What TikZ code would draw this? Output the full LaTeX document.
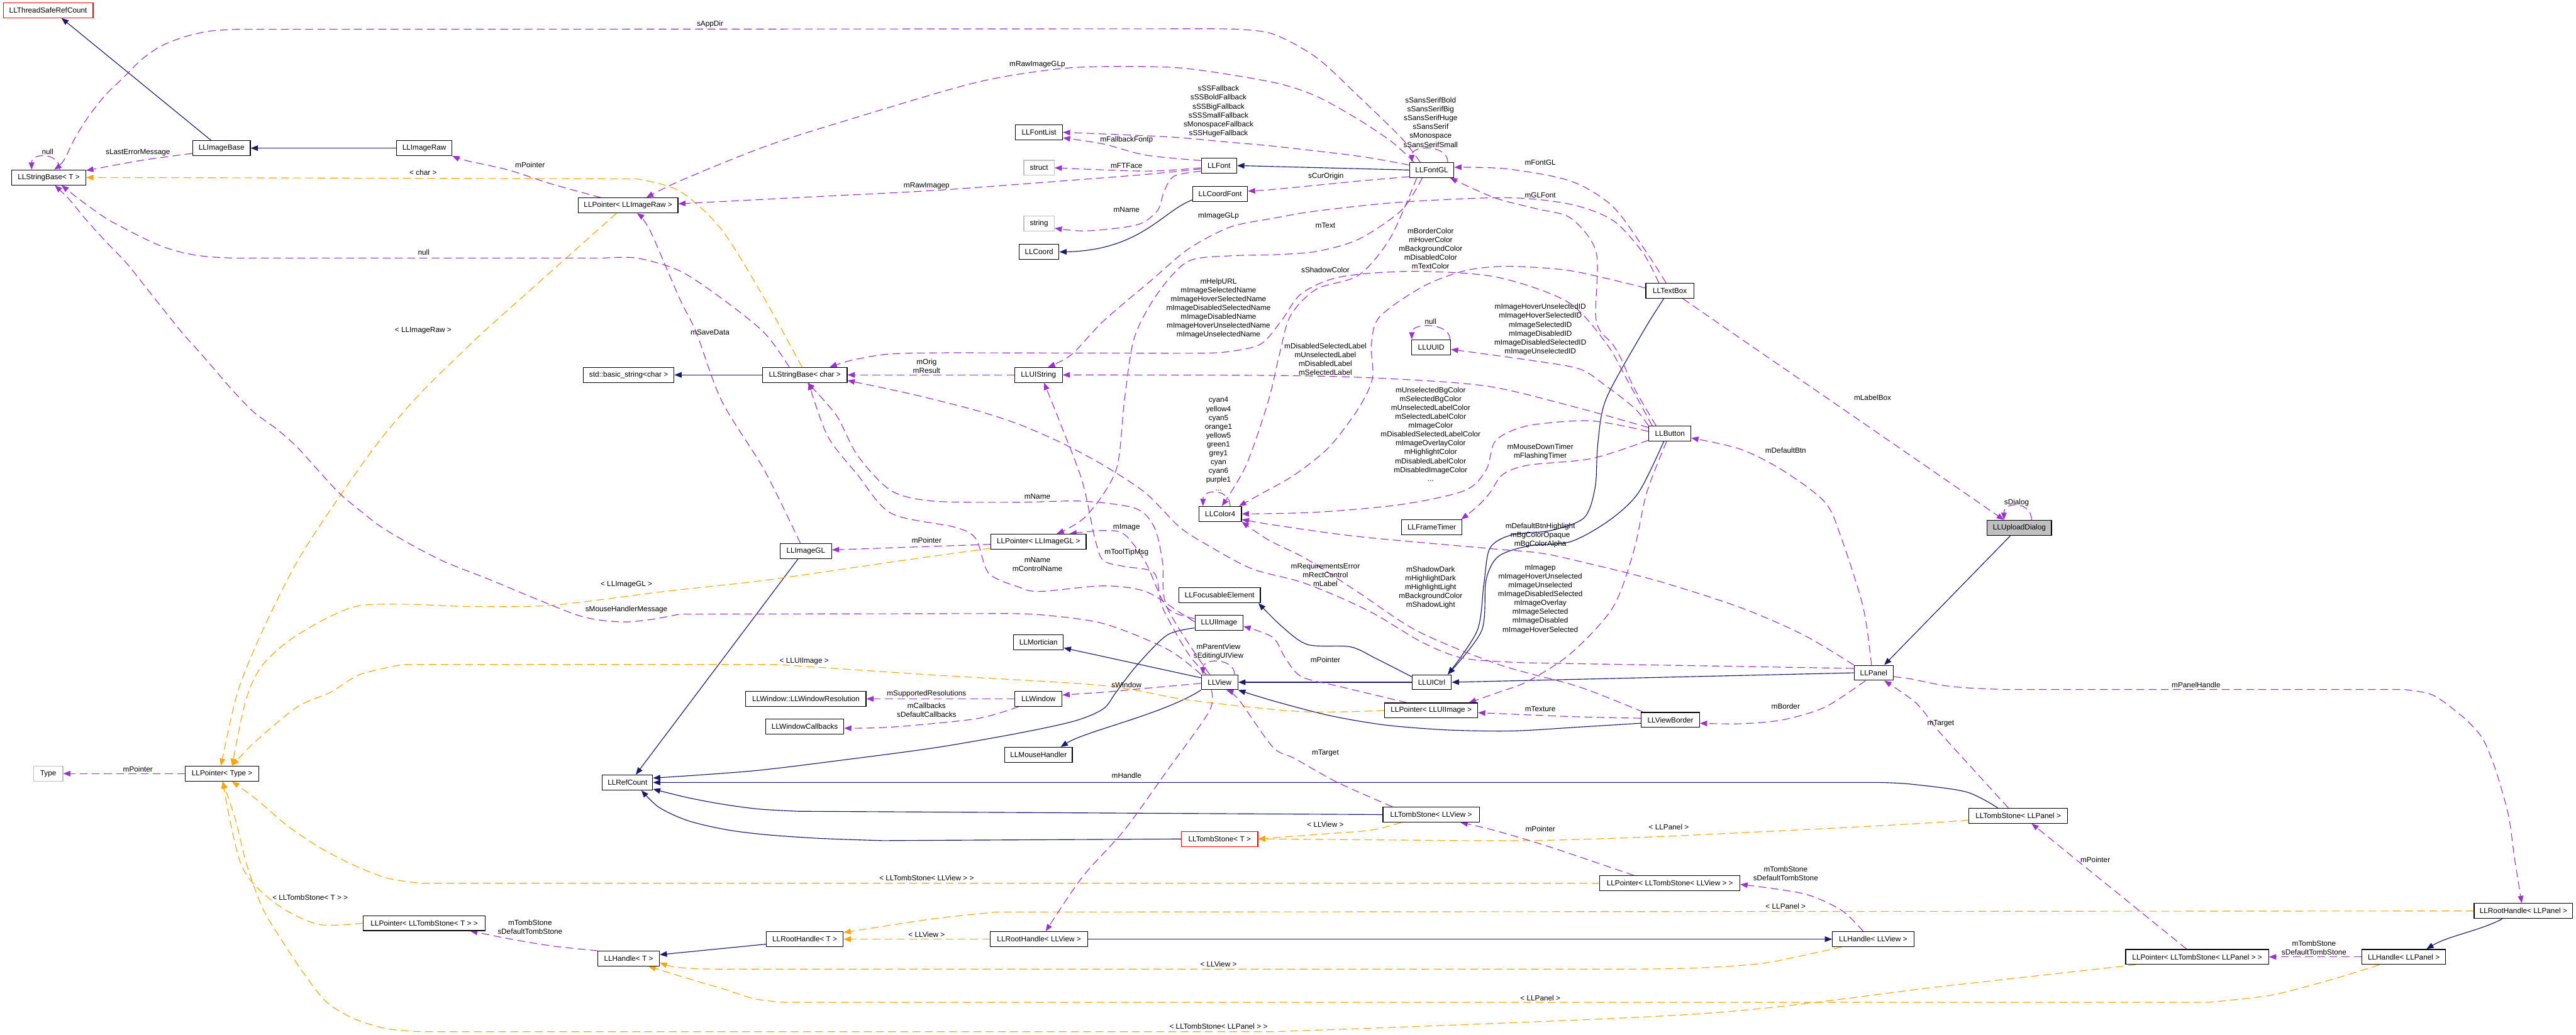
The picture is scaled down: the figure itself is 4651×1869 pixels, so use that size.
\documentclass[tikz,border=0pt]{standalone}
\usepackage{fontspec}
\setmainfont{Liberation Sans}
\usetikzlibrary{arrows.meta}
\definecolor{inhc}{HTML}{191970}
\definecolor{usec}{HTML}{9A32CD}
\definecolor{tplc}{HTML}{FFA500}
\definecolor{grayb}{HTML}{BFBFBF}
\pgfdeclarelayer{edges}
\pgfsetlayers{edges,main}
\begin{document}
\begin{tikzpicture}[x=1pt,y=-1pt,
 cls/.style={draw=black,line width=1.3pt,fill=white,minimum height=27pt,inner sep=0pt,font=\fontsize{13.4}{16}\selectfont},
 redcls/.style={cls,draw=red},
 grycls/.style={cls,draw=grayb},
 lbl/.style={inner sep=0pt,align=center,font=\fontsize{13.4}{16}\selectfont},
 inh/.style={draw=inhc,line width=1.3pt,-{Triangle[length=13pt,width=10pt]}},
 use/.style={draw=usec,line width=1.3pt,dash pattern=on 14pt off 8pt,-{Triangle[length=13pt,width=10pt]}},
 tpl/.style={draw=tplc,line width=1.3pt,dash pattern=on 14pt off 8pt,-{Triangle[length=13pt,width=10pt]}},
 sm/.style={smooth,tension=0.5}]
\useasboundingbox (0,0) rectangle (4651,1869);
% ---------- classes
\node[redcls,minimum width=162pt] (tsrc) at (87,18.5) {LLThreadSafeRefCount};
\node[cls,minimum width=104pt] (imgbase) at (400,267.5) {LLImageBase};
\node[cls,minimum width=100pt] (imgraw) at (766,267.5) {LLImageRaw};
\node[cls,minimum width=134pt] (sbT) at (88,320.5) {LLStringBase< T >};
\node[cls,minimum width=180pt] (ptrRaw) at (1134,371) {LLPointer< LLImageRaw >};
\node[cls,minimum width=85pt] (fontlist) at (1876,239) {LLFontList};
\node[grycls,minimum width=55pt] (struct) at (1876,303) {struct};
\node[cls,minimum width=64pt] (font) at (2201,299) {LLFont};
\node[cls,minimum width=99pt] (coordfont) at (2203,350) {LLCoordFont};
\node[grycls,minimum width=55pt] (string) at (1876,404) {string};
\node[cls,minimum width=72pt] (coord) at (1876,455) {LLCoord};
\node[cls,minimum width=80pt] (fontgl) at (2585,307) {LLFontGL};
\node[cls,minimum width=87pt] (textbox) at (3015,525) {LLTextBox};
\node[cls,minimum width=70pt] (uuid) at (2584,627) {LLUUID};
\node[cls,minimum width=164pt] (bstring) at (1135,677) {std::basic\_string<char >};
\node[cls,minimum width=153pt] (sbChar) at (1453,677) {LLStringBase< char >};
\node[cls,minimum width=86pt] (uistring) at (1875,677) {LLUIString};
\node[cls,minimum width=77pt] (color) at (2203,928) {LLColor4};
\node[cls,minimum width=93pt] (imagegl) at (1455,995) {LLImageGL};
\node[cls,minimum width=172pt] (ptrGL) at (1875,978) {LLPointer< LLImageGL >};
\node[cls,minimum width=147pt] (focus) at (2202,1075) {LLFocusableElement};
\node[cls,minimum width=87pt] (uiimage) at (2201,1125) {LLUIImage};
\node[cls,minimum width=90pt] (mortician) at (1875,1160) {LLMortician};
\node[cls,minimum width=66pt] (view) at (2202,1232) {LLView};
\node[cls,minimum width=76pt] (button) at (3015,783) {LLButton};
\node[cls,minimum width=109pt] (frametimer) at (2585,952) {LLFrameTimer};
\node[cls,minimum width=71pt] (panel) at (3383,1215) {LLPanel};
\node[cls,minimum width=71pt] (uictrl) at (2585,1232) {LLUICtrl};
\node[cls,minimum width=116pt,fill=grayb] (dialog) at (3646,953) {LLUploadDialog};
\node[cls,minimum width=217pt] (winres) at (1455,1262) {LLWindow::LLWindowResolution};
\node[cls,minimum width=85pt] (window) at (1875,1262) {LLWindow};
\node[cls,minimum width=141pt] (wincb) at (1453,1312) {LLWindowCallbacks};
\node[cls,minimum width=122pt] (mouse) at (1875,1363) {LLMouseHandler};
\node[cls,minimum width=91pt] (refcount) at (1133,1413) {LLRefCount};
\node[redcls,minimum width=138pt] (tombT) at (2202,1515) {LLTombStone< T >};
\node[cls,minimum width=139pt] (rootT) at (1453,1696) {LLRootHandle< T >};
\node[cls,minimum width=176pt] (rootView) at (1876,1696) {LLRootHandle< LLView >};
\node[cls,minimum width=111pt] (handleT) at (1135,1731) {LLHandle< T >};
\node[grycls,minimum width=53pt] (type) at (87,1397) {Type};
\node[cls,minimum width=133pt] (ptrType) at (401,1397) {LLPointer< Type >};
\node[cls,minimum width=220pt] (ptrTombT) at (766,1667) {LLPointer< LLTombStone< T > >};
\node[cls,minimum width=168pt] (ptrUI) at (2584,1283) {LLPointer< LLUIImage >};
\node[cls,minimum width=105pt] (border) at (3016,1300) {LLViewBorder};
\node[cls,minimum width=174pt] (tombView) at (2584,1471) {LLTombStone< LLView >};
\node[cls,minimum width=253pt] (ptrTombView) at (3015,1595) {LLPointer< LLTombStone< LLView > >};
\node[cls,minimum width=147pt] (handleView) at (3382,1696) {LLHandle< LLView >};
\node[cls,minimum width=178pt] (tombPanel) at (3644,1473) {LLTombStone< LLPanel >};
\node[cls,minimum width=178pt] (rootPanel) at (4556,1645) {LLRootHandle< LLPanel >};
\node[cls,minimum width=258pt] (ptrTombPanel) at (3967,1728) {LLPointer< LLTombStone< LLPanel > >};
\node[cls,minimum width=151pt] (handlePanel) at (4340,1728) {LLHandle< LLPanel >};
% ---------- labels
\node[lbl] (t1) at (1282,44) {sAppDir};
\node[lbl] (t2) at (1873,116) {mRawImageGLp};
\node[lbl] (t3) at (2200,201) {sSSFallback\\sSSBoldFallback\\sSSBigFallback\\sSSSmallFallback\\sMonospaceFallback\\sSSHugeFallback};
\node[lbl] (t4) at (2583,221) {sSansSerifBold\\sSansSerifBig\\sSansSerifHuge\\sSansSerif\\sMonospace\\sSansSerifSmall};
\node[lbl] (t5) at (2034,253) {mFallbackFontp};
\node[lbl] (t6) at (2034,299) {mFTFace};
\node[lbl] (t7) at (1673,336) {mRawImagep};
\node[lbl] (t8) at (2394,318) {sCurOrigin};
\node[lbl] (t9) at (2781,293) {mFontGL};
\node[lbl] (t10) at (2781,353) {mGLFont};
\node[lbl] (t11) at (2034,379) {mName};
\node[lbl] (t12) at (2200,390) {mImageGLp};
\node[lbl] (t13) at (2393,407) {mText};
\node[lbl] (t14) at (2583,449) {mBorderColor\\mHoverColor\\mBackgroundColor\\mDisabledColor\\mTextColor};
\node[lbl] (t15) at (2393,487) {sShadowColor};
\node[lbl] (t16) at (2200,557) {mHelpURL\\mImageSelectedName\\mImageHoverSelectedName\\mImageDisabledSelectedName\\mImageDisabledName\\mImageHoverUnselectedName\\mImageUnselectedName};
\node[lbl] (t17) at (2781,595) {mImageHoverUnselectedID\\mImageHoverSelectedID\\mImageSelectedID\\mImageDisabledID\\mImageDisabledSelectedID\\mImageUnselectedID};
\node[lbl] (t18) at (2583,580) {null};
\node[lbl] (t19) at (2393,649) {mDisabledSelectedLabel\\mUnselectedLabel\\mDisabledLabel\\mSelectedLabel};
\node[lbl] (t20) at (1673,661) {mOrig\\mResult};
\node[lbl] (t21) at (3381,718) {mLabelBox};
\node[lbl] (t22) at (2583,784) {mUnselectedBgColor\\mSelectedBgColor\\mUnselectedLabelColor\\mSelectedLabelColor\\mImageColor\\mDisabledSelectedLabelColor\\mImageOverlayColor\\mHighlightColor\\mDisabledLabelColor\\mDisabledImageColor\\...};
\node[lbl] (t23) at (2200,802) {cyan4\\yellow4\\cyan5\\orange1\\yellow5\\green1\\grey1\\cyan\\cyan6\\purple1\\...};
\node[lbl] (t24) at (2781,816) {mMouseDownTimer\\mFlashingTimer};
\node[lbl] (t25) at (3224,813) {mDefaultBtn};
\node[lbl] (t26) at (1873,896) {mName};
\node[lbl] (t27) at (3641,908) {sDialog};
\node[lbl] (t28) at (2034,952) {mImage};
\node[lbl] (t29) at (2781,967) {mDefaultBtnHighlight\\mBgColorOpaque\\mBgColorAlpha};
\node[lbl] (t30) at (1673,976) {mPointer};
\node[lbl] (t31) at (2034,998) {mToolTipMsg};
\node[lbl] (t32) at (1873,1019) {mName\\mControlName};
\node[lbl] (t33) at (2393,1038) {mRequirementsError\\mRectControl\\mLabel};
\node[lbl] (t34) at (2583,1061) {mShadowDark\\mHighlightDark\\mHighlightLight\\mBackgroundColor\\mShadowLight};
\node[lbl] (t35) at (2781,1082) {mImagep\\mImageHoverUnselected\\mImageUnselected\\mImageDisabledSelected\\mImageOverlay\\mImageSelected\\mImageDisabled\\mImageHoverSelected};
\node[lbl] (t36) at (1131,1101) {sMouseHandlerMessage};
\node[lbl] (t37) at (1131,1056) {< LLImageGL >};
\node[lbl] (t38) at (2200,1177) {mParentView\\sEditingUIView};
\node[lbl] (t39) at (2393,1192) {mPointer};
\node[lbl] (t40) at (1452,1194) {< LLUIImage >};
\node[lbl] (t41) at (2034,1237) {sWindow};
\node[lbl] (t42) at (3965,1237) {mPanelHandle};
\node[lbl] (t43) at (1673,1253) {mSupportedResolutions};
\node[lbl] (t44) at (1673,1282) {mCallbacks\\sDefaultCallbacks};
\node[lbl] (t45) at (3224,1276) {mBorder};
\node[lbl] (t46) at (2781,1280) {mTexture};
\node[lbl] (t47) at (3504,1306) {mTarget};
\node[lbl] (t48) at (2393,1360) {mTarget};
\node[lbl] (t49) at (249,1389) {mPointer};
\node[lbl] (t50) at (2034,1400) {mHandle};
\node[lbl] (t51) at (2393,1489) {< LLView >};
\node[lbl] (t52) at (3013,1494) {< LLPanel >};
\node[lbl] (t53) at (2781,1497) {mPointer};
\node[lbl] (t54) at (3783,1553) {mPointer};
\node[lbl] (t55) at (3224,1578) {mTombStone\\sDefaultTombStone};
\node[lbl] (t56) at (1673,1586) {< LLTombStone< LLView > >};
\node[lbl] (t57) at (560,1621) {< LLTombStone< T > >};
\node[lbl] (t58) at (3224,1636) {< LLPanel >};
\node[lbl] (t59) at (957,1674) {mTombStone\\sDefaultTombStone};
\node[lbl] (t60) at (1673,1688) {< LLView >};
\node[lbl] (t61) at (4178,1712) {mTombStone\\sDefaultTombStone};
\node[lbl] (t62) at (2200,1741) {< LLView >};
\node[lbl] (t63) at (2781,1802) {< LLPanel >};
\node[lbl] (t64) at (2200,1853) {< LLTombStone< LLPanel > >};
\node[lbl] (t65) at (249,276) {sLastErrorMessage};
\node[lbl] (t66) at (86,274) {null};
\node[lbl] (t67) at (957,298) {mPointer};
\node[lbl] (t68) at (764,312) {< char >};
\node[lbl] (t69) at (765,456) {null};
\node[lbl] (t70) at (764,597) {< LLImageRaw >};
\node[lbl] (t71) at (1282,600) {mSaveData};
% ---------- connectors
\begin{pgfonlayer}{edges}
% inheritance
\draw[inh] ([xshift=-19pt]imgbase.north) -- ([xshift=24pt]tsrc.south);
\draw[inh] (imgraw.west) -- (imgbase.east);
\draw[inh] (fontgl.west) -- (font.east);
\draw[inh] ([yshift=-11pt]coordfont.west) .. controls (2100,380) and (2060,452) .. (coord.east);
\draw[inh] (sbChar.west) -- (bstring.east);
\draw[inh] plot[sm] coordinates {([xshift=-11pt]textbox.south) (2966,600) (2900,720) (2885,800) (2880,880) (2860,935) (2800,958) (2729,966) (2690,990) (2679,1056) (2667,1139) ([xshift=29pt]uictrl.north)};
\draw[inh] plot[sm] coordinates {([xshift=-11pt]button.south) (2958,890) (2905,940) (2836,978) (2759,986) (2705,1005) (2683,1048) (2675,1139) ([xshift=29pt]uictrl.north)};
\draw[inh] (panel.west) -- (uictrl.east);
\draw[inh] ([xshift=-16pt]dialog.south) -- ([xshift=19pt]panel.north);
\draw[inh] (uictrl.west) -- (view.east);
\draw[inh] plot[sm] coordinates {([yshift=10pt]uictrl.west) (2484,1189) (2438,1168) (2361,1164) (2313,1130) ([xshift=-4pt]focus.south east)};
\draw[inh] ([yshift=8pt]view.west) -- ([yshift=-10pt]mortician.east);
\draw[inh] (view.south west) .. controls (2100,1290) and (1960,1320) .. ([xshift=40pt]mouse.north);
\draw[inh] plot[sm] coordinates {([yshift=-9pt]uiimage.west) (2107,1147) (2053,1201) (2015,1250) (1992,1280) (1940,1302) (1839,1324) (1690,1350) (1533,1371) (1360,1392) ([yshift=8pt]refcount.east)};
\draw[inh] ([xshift=-14pt]imagegl.south) -- ([xshift=15pt]refcount.north);
\draw[inh] plot[sm] coordinates {([xshift=-37pt]tombPanel.north) (3550,1430) (3450,1416) (3394,1413)} -- (refcount.east);
\draw[inh] (tombView.west) -- plot[sm] coordinates {(1441,1465) (1370,1461) (1303,1452) (1240,1440) ([yshift=-12pt]refcount.east)};
\draw[inh] (tombT.west) -- plot[sm] coordinates {(1594,1518) (1480,1514) (1380,1507) (1310,1498) (1242,1482) (1190,1458) ([xshift=25pt]refcount.south)};
\draw[inh] ([yshift=-9pt]rootT.west) -- ([yshift=7pt]handleT.east);
\draw[inh] (rootView.east) -- (handleView.west);
\draw[inh] ([xshift=-38pt]rootPanel.south) .. controls (4480,1680) and (4420,1690) .. ([xshift=41pt]handlePanel.north);
\draw[inh] plot[sm] coordinates {([yshift=-6pt]border.west) (2850,1313) (2729,1320) (2610,1318) (2499,1309) (2400,1292) (2300,1266) (view.south east)};
% template instances
\draw[tpl] plot[sm] coordinates {([xshift=-5pt]sbChar.north) (1380,539) (1303,415) (1227,345) (1150,323)} -- (sbT.east);
\draw[tpl] ([xshift=-21pt]ptrRaw.south) -- plot[sm] coordinates {(872,600) (765,704) (689,791) (612,898) (536,1015) (474,1139) (429,1250) ([xshift=-2pt]ptrType.north)};
\draw[tpl] plot[sm] coordinates {([yshift=-12pt]ptrGL.west) (1609,1015) (1380,1048) (1200,1068) (995,1093) (842,1095) (727,1091) (635,1097) (536,1147) (474,1201) (444,1264) ([xshift=18pt]ptrType.north)};
\draw[tpl] plot[sm] coordinates {(ptrUI.west) (2350,1285) (2145,1264) (1992,1238) (1686,1219) (1403,1200)} -- plot[sm] coordinates {(727,1200) (650,1218) (597,1250) (536,1277) (459,1341) ([xshift=18pt]ptrType.north)};
\draw[tpl] (ptrTombView.west) -- plot[sm] coordinates {(760,1595) (700,1586) (640,1563) (580,1532) (520,1492) (465,1445) ([xshift=18pt]ptrType.south)};
\draw[tpl] plot[sm] coordinates {(ptrTombT.west) (574,1669) (497,1631) (436,1563) ([xshift=1pt]ptrType.south)};
\draw[tpl] plot[sm] coordinates {([xshift=-111pt]ptrTombPanel.south) (3500,1782) (3065,1831) (2300,1863)} -- plot[sm] coordinates {(760,1863) (700,1858) (640,1840) (590,1810) (550,1760) (510,1700) (474,1640) (445,1560) (425,1480) ([xshift=1pt]ptrType.south)};
\draw[tpl] (rootView.west) -- (rootT.east);
\draw[tpl] (rootPanel.west) -- plot[sm] coordinates {(1800,1647) (1686,1659) ([yshift=12pt]rootT.east)};
\draw[tpl] plot[sm] coordinates {([xshift=-57pt]handleView.south) (3257,1725) (3180,1740) (3065,1748) (2950,1750)} -- (1300,1750) .. controls (1230,1750) and (1210,1745) .. ([yshift=-8pt]handleT.east);
\draw[tpl] plot[sm] coordinates {([xshift=-44pt]handlePanel.south) (4216,1767) (4101,1797) (3986,1810)} -- plot[sm] coordinates {(1418,1810) (1364,1804) (1303,1785) (1242,1767) ([xshift=36pt]handleT.south)};
\draw[tpl] plot[sm] coordinates {([xshift=-54pt]tombView.south) (2476,1499) (2377,1507) (tombT.east)};
\draw[tpl] plot[sm] coordinates {([yshift=-8pt]tombPanel.west) (3450,1488) (3220,1500) (2989,1511) (2759,1518) (2530,1517)} -- (tombT.east);
% usage
\draw[use] plot[sm] coordinates {([yshift=-9.5pt]imgbase.west) (253,290) ([yshift=12.5pt]sbT.east)};
\draw[use] ([xshift=20pt]sbT.north) .. controls (108,275) and (57,275) .. ([xshift=-31pt]sbT.north);
\draw[use] plot[sm] coordinates {([xshift=-21pt]fontgl.north) (2530,249) (2453,174) (2377,104) (2300,62) (2237,53) (2160,52)} -- plot[sm] coordinates {(430,53) (380,56) (335,66) (291,83) (255,108) (225,138) (190,172) (160,210) (135,250) (115,290) ([xshift=10pt]sbT.north)};
\draw[use] plot[sm] coordinates {([xshift=-49pt]ptrRaw.north) (995,332) (918,307) (842,290) (imgraw.south east)};
\draw[use] plot[sm] coordinates {([xshift=-32pt]fontgl.north) (2514,257) (2453,216) (2377,174) (2300,149) (2145,124) (2030,120) (1915,124) (1762,149) (1533,216) (1380,265) (1227,327) ([xshift=33pt]ptrRaw.north)};
\draw[use] plot[sm] coordinates {([yshift=-6pt]font.west) (2068,315) (1915,327) (1686,344) (1456,356) ([yshift=3pt]ptrRaw.east)};
\draw[use] plot[sm] coordinates {([yshift=9pt]font.west) (2068,280) (1992,260) ([yshift=-10pt]fontlist.east)};
\draw[use] plot[sm] coordinates {([yshift=9pt]fontgl.west) (2453,282) (2300,264) (2221,257) (2107,247) (fontlist.east)};
\draw[use] plot[sm] coordinates {([yshift=-4pt]font.west) (2068,309) (struct.east)};
\draw[use] plot[sm] coordinates {([yshift=-10pt]font.west) (2120,318) (2102,345) (2090,380) (2053,406) (1961,417) ([yshift=-8pt]string.east)};
\draw[use] plot[sm] coordinates {([yshift=-12pt]fontgl.west) (2453,327) (2300,342) ([yshift=5pt]coordfont.east)};
\draw[use] ([xshift=29pt]fontgl.north) .. controls (2614,261) and (2549,261) .. ([xshift=-36pt]fontgl.north);
\draw[use] plot[sm] coordinates {([xshift=-7pt]textbox.north) (2973,456) (2912,373) (2836,327) (2721,305) ([yshift=5pt]fontgl.east)};
\draw[use] plot[sm] coordinates {([xshift=-25pt]button.north) (2950,700) (2928,650) (2912,622) (2882,580) (2882,456) (2836,394) (2774,377) (2698,357) ([xshift=33pt]fontgl.south)};
\draw[use] plot[sm] coordinates {([xshift=-20pt]textbox.north) (2966,456) (2912,398) (2836,369) (2721,357) (2530,365) (2377,381) (2300,394) (2221,410) (2145,450) (2080,505) (1992,580) (1935,640) ([xshift=17pt]uistring.north)};
\draw[use] plot[sm] coordinates {([xshift=-17pt]fontgl.south) (2530,380) (2453,432) (2377,454) (2300,460) (2221,462) (2145,472) (2090,530) (2048,610) (2030,724) (2015,849) (1961,932) ([xshift=33pt]ptrGL.north)};
\draw[use] plot[sm] coordinates {([xshift=-27pt]fontgl.south) (2510,430) (2453,497) (2377,522) (2330,570) (2310,640) (2290,724) (2250,840) ([xshift=3pt]color.north)};
\draw[use] plot[sm] coordinates {([yshift=5pt]textbox.west) (2836,489) (2721,481) (2644,489) (2568,518) (2491,572) (2476,622) (2478,683) (2453,737) (2400,807) (2338,857) (2280,890) ([xshift=34pt]color.north)};
\draw[use] plot[sm] coordinates {([xshift=-32pt]button.north) (2940,690) (2900,620) (2830,545) (2700,500) (2550,490) (2420,500) (2350,530) (2313,580) (2275,622) (2210,636) (2145,638)} -- plot[sm] coordinates {(1724,637) (1609,639) (1540,650) ([xshift=45pt]sbChar.north)};
\draw[use] plot[sm] coordinates {(button.north west) (2951,737) (2897,695) (2851,666) (2759,650) ([yshift=-4pt]uuid.east)};
\draw[use] plot[sm] coordinates {([yshift=11pt]button.west) (2836,733) (2683,697) (2491,683) (2300,678) (uistring.east)};
\draw[use] plot[sm] coordinates {([yshift=4pt]button.west) (2874,760) (2775,766) (2729,778) (2698,799) (2683,849) (2644,886) (2530,911) (2377,925) (color.east)};
\draw[use] plot[sm] coordinates {([yshift=-12pt]button.west) (2874,828) (2759,840) (2713,857) (2690,890) (2667,915) ([xshift=-2pt]frametimer.north east)};
\draw[use] plot[sm] coordinates {([xshift=-6pt]button.south) (2973,890) (2950,994) (2912,1097) (2836,1180) (2759,1230) (2706,1250) ([xshift=68pt]ptrUI.north)};
\draw[use] plot[sm] coordinates {([yshift=3pt]border.west) (2836,1294) ([yshift=-4pt]ptrUI.east)};
\draw[use] plot[sm] coordinates {([xshift=-15pt]panel.south) (3295,1277) (3218,1300) (3142,1307) ([yshift=-6pt]border.east)};
\draw[use] plot[sm] coordinates {([xshift=-4pt]panel.north) (3364,1097) (3325,973) (3295,907) (3218,849) (3142,811) ([yshift=-8pt]button.east)};
\draw[use] plot[sm] coordinates {([yshift=-7pt]panel.east) (3450,1226) (3510,1238) (3565,1243) (3620,1245)} -- plot[sm] coordinates {(4338,1245) (4392,1255) (4446,1294) (4480,1330) (4499,1371) (4515,1420) (4530,1477) (4540,1550) ([xshift=-3pt]rootPanel.north)};
\draw[use] plot[sm] coordinates {([xshift=-18pt]tombPanel.north) (3565,1392) (3500,1320) (3460,1270) ([xshift=19pt]panel.south)};
\draw[use] plot[sm] coordinates {([xshift=-70pt]tombView.north) (2415,1413) (2338,1370) (2298,1349) (2237,1264) ([xshift=12pt]view.south)};
\draw[use] plot[sm] coordinates {([xshift=-65pt]ptrTombView.north) (2800,1530) (2700,1500) ([xshift=53pt]tombView.south)};
\draw[use] plot[sm] coordinates {([xshift=-18pt]handleView.north) (3325,1644) (3257,1614) ([yshift=-2pt]ptrTombView.east)};
\draw[use] ([xshift=-19pt]ptrTombPanel.north) -- ([xshift=24pt]tombPanel.south);
\draw[use] (handlePanel.west) -- (ptrTombPanel.east);
\draw[use] plot[sm] coordinates {(handleT.north west) (995,1708) (918,1695) ([xshift=83pt]ptrTombT.south)};
\draw[use] (ptrType.west) -- (type.east);
\draw[use] plot[sm] coordinates {([xshift=-15pt]view.south) (2183,1285) (2107,1392) (2030,1499) (1954,1584) ([xshift=12pt]rootView.north)};
\draw[use] plot[sm] coordinates {([yshift=-2pt]view.west) (2068,1243) (1992,1250) ([yshift=7pt]window.east)};
\draw[use] (window.west) -- (winres.east);
\draw[use] plot[sm] coordinates {([xshift=-36pt]window.south) (1762,1298) (1609,1313) ([yshift=-3pt]wincb.east)};
\draw[use] ([xshift=27pt]view.north) .. controls (2229,1188) and (2172,1188) .. ([xshift=-30pt]view.north);
\draw[use] plot[sm] coordinates {([yshift=8pt]uiimage.west) (2107,1097) (2068,1015) (2030,965) (1992,958) ([xshift=56pt]ptrGL.north)};
\draw[use] ([yshift=-5pt]ptrGL.west) -- ([yshift=2pt]imagegl.east);
\draw[use] plot[sm] coordinates {([xshift=-10pt]imagegl.north) (1380,849) (1303,724) (1257,600) (1227,539) (1173,415) ([xshift=16pt]ptrRaw.south)};
\draw[use] plot[sm] coordinates {([xshift=-24pt]view.north) (2145,1180) (2099,1097) (2084,1035) (2030,1023) (1992,1012) (1977,973) (1954,869) (1915,766) ([xshift=10pt]uistring.south)};
\draw[use] plot[sm] coordinates {([xshift=-18pt]view.north) (2107,1097) (2099,1015) (2084,952) (2050,918) (1954,905) (1839,907) (1686,905) (1609,886) (1548,822) (1510,750) ([xshift=5pt]sbChar.south)};
\draw[use] plot[sm] coordinates {([yshift=2pt]uiimage.west) (2130,1106) (2068,1068) (1992,1058) (1877,1068) (1839,1060) (1785,1035) (1762,973) (1724,952) (1609,927) (1548,857) (1494,787) ([xshift=7pt]sbChar.south)};
\draw[use] plot[sm] coordinates {(view.north west) (2107,1172) (1992,1126) (1877,1110) (1800,1108)} -- plot[sm] coordinates {(1227,1109) (1180,1118) (1133,1123) (1085,1120) (1040,1110) (957,1077) (880,1045) (804,1015) (745,985) (689,952) (650,922) (612,890) (575,850) (536,807) (500,775) (459,745) (420,705) (383,662) (355,630) (329,601) (280,540) (230,477) (190,435) (153,394) (125,360) ([xshift=11pt]sbT.south)};
\draw[use] plot[sm] coordinates {([xshift=-28pt]sbChar.north) (1380,601) (1303,539) (1227,489) (1150,466) (1090,466)} -- plot[sm] coordinates {(420,466) (370,463) (329,456) (290,444) (253,427) (220,410) (191,394) (150,365) ([xshift=23pt]sbT.south)};
\draw[use] (uistring.west) -- (sbChar.east);
\draw[use] ([yshift=8pt]panel.west) -- plot[sm] coordinates {(2759,1197) (2644,1189) (2568,1160) (2484,1110) (2415,1077) (2346,1050) (2260,1027) (2183,986) (2130,952) (2068,890) (1992,840) (1915,799) (1839,766) (1762,741) (1647,712) ([yshift=-10pt]sbChar.east)};
\draw[use] plot[sm] coordinates {([xshift=4pt]border.north west) (2850,1240) (2706,1200) (2560,1140) (2453,1070) (2360,1010) (2290,975) (color.south east)};
\draw[use] plot[sm] coordinates {(panel.north west) (3257,1147) (3142,1097) (2989,1048) (2836,1010) (2775,998) (2683,990) (2453,969) (2300,948) ([yshift=-10pt]color.east)};
\draw[use] plot[sm] coordinates {([xshift=-44pt]ptrUI.north) (2420,1240) (2350,1222) (2321,1189) (2298,1151) ([yshift=-6pt]uiimage.east)};
\draw[use] ([xshift=23pt]textbox.south) -- ([xshift=-28pt]dialog.north);
\draw[use] ([xshift=22pt]dialog.north) .. controls (3668,905) and (3618,905) .. ([xshift=-28pt]dialog.north);
\draw[use] ([xshift=34pt]uuid.north) .. controls (2618,582) and (2549,582) .. ([xshift=-35pt]uuid.north);
\draw[use] ([xshift=18pt]color.north) .. controls (2221,882) and (2172,882) .. ([xshift=-31pt]color.north);
\end{pgfonlayer}
\end{tikzpicture}
\end{document}
